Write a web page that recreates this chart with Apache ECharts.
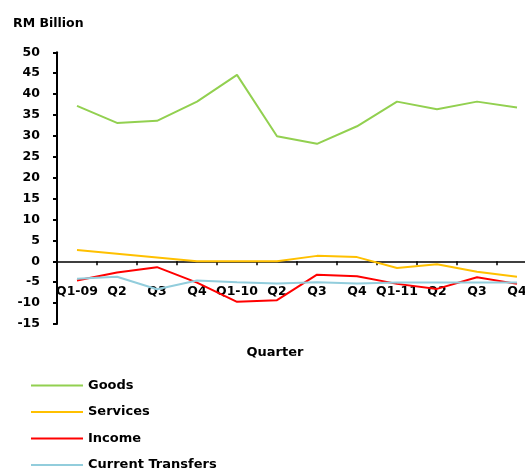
<!DOCTYPE html>
<html>
<head>
<meta charset="utf-8">
<script src="https://cdn.jsdelivr.net/npm/echarts@6/dist/echarts.min.js"></script>
<style>html,body{margin:0;padding:0;background:#fff}#c{width:525px;height:475px}</style>
</head>
<body>
<div id="c"></div>
<script>
const categories = ['Q1-09','Q2','Q3','Q4','Q1-10','Q2','Q3','Q4','Q1-11','Q2','Q3','Q4'];
const goods = [37.2, 33.1, 33.6, 38.2, 44.6, 29.9, 28.1, 32.3, 38.2, 36.4, 38.2, 36.8];
const services = [2.7, 1.8, 0.9, 0.0, 0.0, 0.0, 1.3, 1.0, -1.6, -0.7, -2.5, -3.7];
const income = [-4.6, -2.7, -1.4, -5.1, -9.7, -9.3, -3.2, -3.6, -5.4, -6.6, -3.8, -5.4];
const transfers = [-4.2, -3.7, -6.7, -4.6, -5.0, -5.3, -5.0, -5.3, -5.1, -5.1, -5.1, -5.1];
const yTicks = {min: -15, max: 50, interval: 5};

const FONT = 'DejaVu Sans';
const chart = echarts.init(document.getElementById('c'), null, {renderer: 'canvas'});
function mk(name, data, color) {
  return {name, type: 'line', data, symbol: 'none', smooth: false,
    lineStyle: {color, width: 2}, itemStyle: {color}, animation: false};
}
chart.setOption({
  animation: false,
  backgroundColor: '#fff',
  title: [
    {text: 'RM Billion', left: 8, top: 12, textStyle: {fontFamily: FONT, fontWeight: 'bold', fontSize: 12.5, color: '#000'}},
    {text: 'Quarter', left: 270, top: 341, textAlign: 'center', textStyle: {fontFamily: FONT, fontWeight: 'bold', fontSize: 13, color: '#000'}}
  ],
  grid: {left: 57, width: 480, top: 52.3, bottom: 151, containLabel: false, outerBoundsMode: 'none'},
  legend: {
    orient: 'vertical', left: 30, top: 379, padding: 0, itemWidth: 52, itemHeight: 14, itemGap: 13.5,
    itemStyle: {opacity: 0},
    lineStyle: {width: 2},
    textStyle: {fontFamily: FONT, fontWeight: 'bold', fontSize: 13, color: '#000', padding: [0,0,0,0]},
    data: ['Goods','Services','Income','Current Transfers']
  },
  xAxis: {
    type: 'category', data: categories, boundaryGap: true, offset: -62.7,
    axisLine: {onZero: false, lineStyle: {color: '#000', width: 1.5}},
    axisTick: {show: true, length: 4, lineStyle: {color: '#000', width: 1.5}},
    axisLabel: {interval: 0, margin: 24, fontFamily: FONT, fontWeight: 'bold', fontSize: 12.5, color: '#000'},
    splitLine: {show: false}
  },
  yAxis: {
    type: 'value', min: yTicks.min, max: yTicks.max, interval: yTicks.interval,
    axisLine: {show: true, onZero: false, lineStyle: {color: '#000', width: 2}},
    axisTick: {show: true, length: 4, lineStyle: {color: '#000', width: 2}},
    axisLabel: {margin: 17, fontFamily: FONT, fontWeight: 'bold', fontSize: 12.5, color: '#000'},
    splitLine: {show: false}
  },
  series: [
    mk('Goods', goods, '#92D050'),
    mk('Services', services, '#FFC000'),
    mk('Income', income, '#FF0000'),
    mk('Current Transfers', transfers, '#92CDDC')
  ]
});
</script>
</body>
</html>
